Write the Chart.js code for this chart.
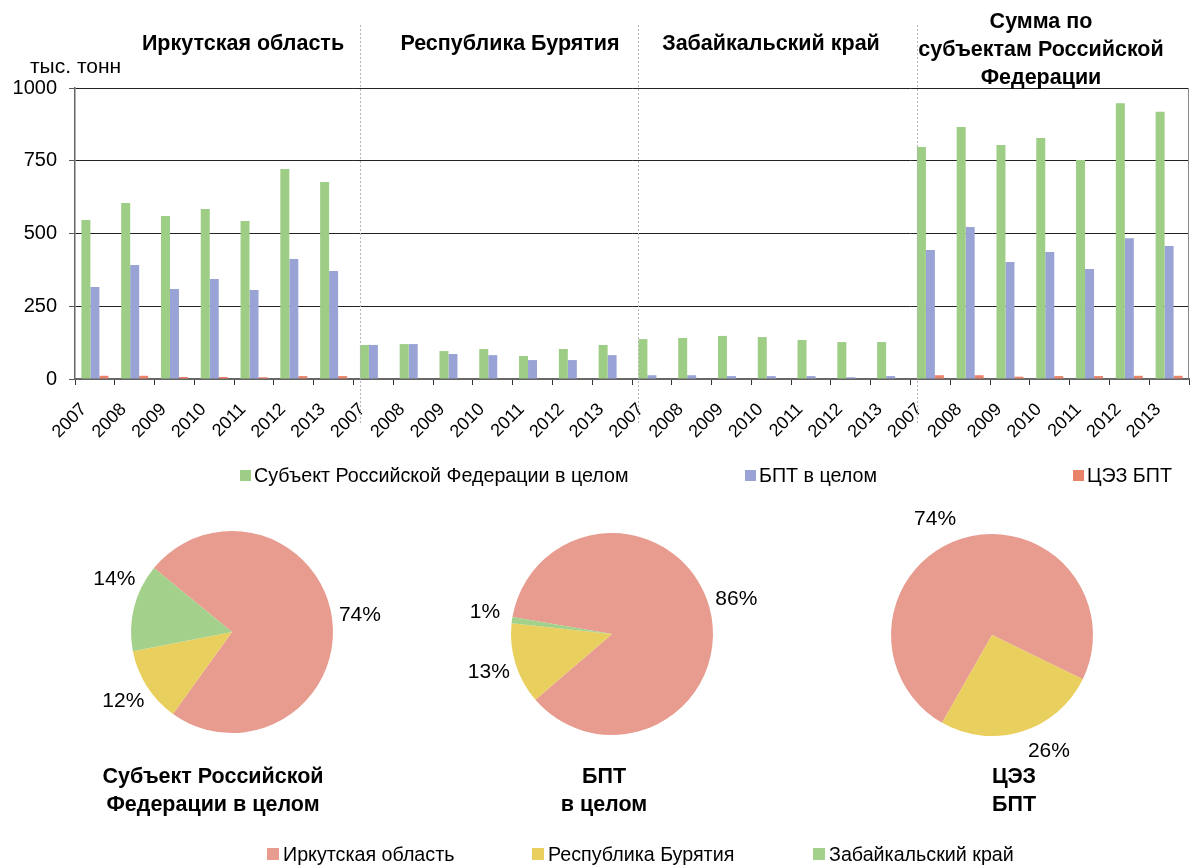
<!DOCTYPE html>
<html><head><meta charset="utf-8">
<script src="https://cdn.jsdelivr.net/npm/chart.js@4.4.1/dist/chart.umd.min.js"></script>
<style>
html,body{margin:0;padding:0;background:#fff;}
#wrap{position:relative;width:1190px;height:866px;overflow:hidden;font-family:"Liberation Sans",Arial,sans-serif;color:#000;}
canvas{position:absolute;}
.t{position:absolute;font-weight:bold;font-size:21.5px;text-align:center;line-height:28px;white-space:nowrap;transform:translateX(-50%);}
.lt{position:absolute;font-size:19.7px;line-height:20px;white-space:nowrap;}
.sq{position:absolute;}
</style></head>
<body><div id="wrap">
<canvas id="bar" width="1190" height="450" style="left:0;top:0"></canvas>
<canvas id="pie1" width="320" height="320" style="left:72px;top:472px"></canvas>
<canvas id="pie2" width="320" height="320" style="left:452px;top:474px"></canvas>
<canvas id="pie3" width="320" height="320" style="left:832px;top:475px"></canvas>

<div class="lt" style="left:30px;top:56px;font-size:21px">тыс. тонн</div>
<div class="t" style="left:243px;top:29px">Иркутская область</div>
<div class="t" style="left:510px;top:29px">Республика Бурятия</div>
<div class="t" style="left:771px;top:29px">Забайкальский край</div>
<div class="t" style="left:1041px;top:7px">Сумма по<br>субъектам Российской<br>Федерации</div>

<div class="t" style="left:213px;top:762px">Субъект Российской<br>Федерации в целом</div>
<div class="t" style="left:604px;top:762px">БПТ<br>в целом</div>
<div class="t" style="left:1014px;top:762px">ЦЭЗ<br>БПТ</div>

<div id="legend1"></div>
<div id="legend2"></div>
</div>
<script>
// ---- data ----
const years = ['2007','2008','2009','2010','2011','2012','2013'];
const groups = ['Иркутская область','Республика Бурятия','Забайкальский край','Сумма по субъектам Российской Федерации'];
const categories = [...years, ...years, ...years, ...years];
const seriesNames = ['Субъект Российской Федерации в целом','БПТ в целом','ЦЭЗ БПТ'];
const subjectRF = [546,605,560,584,543,722,677, 117,120,96,103,79,103,117, 137,141,148,144,134,127,127, 797,866,804,828,753,948,918];
const bptTotal  = [316,392,309,344,306,412,371, 117,120,86,82,65,65,82, 13,13,10,10,10,6,10, 443,522,402,436,378,484,457];
const cezBpt    = [11,11,7,7,6,10,10, 2,2,2,2,2,2,2, 0,0,0,0,0,0,0, 13,13,8,10,10,11,11];
const yTicks = [0,250,500,750,1000];
const regionNames = ['Иркутская область','Республика Бурятия','Забайкальский край'];
const pieSubjectRF = [74,12,14];
const pieBpt = [86,13,1];
const pieCez = [74,26,0];

// ---- styles ----
const barColors = ['#9ECD86','#99A3D6','#E9836A'];
const pieColors = ['#E89B8F','#E9D05E','#A3D18B'];
Chart.defaults.font.family = '"Liberation Sans", Arial, sans-serif';
Chart.defaults.color = '#000';

function legend(id, items, colors, sqX, txX, cy, sq) {
  const el = document.getElementById(id);
  items.forEach((name,i)=>{
    const s = document.createElement('div');
    s.className='sq';
    s.style.cssText = `left:${sqX[i]}px;top:${cy-sq/2}px;width:${sq}px;height:${sq}px;background:${colors[i]}`;
    el.appendChild(s);
    const t = document.createElement('div');
    t.className='lt';
    t.style.cssText = `left:${txX[i]}px;top:${cy-10}px`;
    t.textContent = name;
    el.appendChild(t);
  });
}
legend('legend1', seriesNames, barColors, [240,745,1073], [254,759,1087], 475, 11);
legend('legend2', regionNames, pieColors, [267,532,813], [283,548,829], 854, 12);

const sepPlugin = {
  id:'sep',
  afterDraw(chart){
    const ctx = chart.ctx, ca = chart.chartArea;
    const meta = chart.getDatasetMeta(0);
    ctx.save();
    ctx.strokeStyle = '#888'; ctx.lineWidth = 1;
    ctx.beginPath(); ctx.moveTo(ca.right-0.5, ca.top); ctx.lineTo(ca.right-0.5, ca.bottom); ctx.stroke();
    ctx.strokeStyle = '#b5b5b5'; ctx.setLineDash([2,2]);
    for (let g=1; g<groups.length; g++){
      const el = meta.data[g*years.length];
      const x = Math.round(el.x - el.width/2) + 0.5;
      ctx.beginPath(); ctx.moveTo(x, 25); ctx.lineTo(x, 425); ctx.stroke();
    }
    ctx.restore();
  }
};

new Chart(document.getElementById('bar'), {
  type:'bar',
  data:{
    labels: categories,
    datasets:[
      {label:seriesNames[0], data:subjectRF, backgroundColor:barColors[0]},
      {label:seriesNames[1], data:bptTotal, backgroundColor:barColors[1]},
      {label:seriesNames[2], data:cezBpt, backgroundColor:barColors[2]}
    ]
  },
  options:{
    responsive:false, animation:false, devicePixelRatio:1,
    categoryPercentage:0.678, barPercentage:1,
    layout:{padding:{top:88,right:1,left:0,bottom:0}},
    plugins:{legend:{display:false}, tooltip:{enabled:false}},
    scales:{
      x:{
        grid:{display:true, drawOnChartArea:false, drawTicks:true, tickLength:6, offset:true, color:'#333'},
        border:{display:true, color:'#666', width:2},
        ticks:{autoSkip:false, minRotation:45, maxRotation:45, font:{size:18}, color:'#000', padding:14, labelOffset:-11},
        afterFit(s){ s.height = 71; s.paddingLeft = 0; s.paddingRight = 0; }
      },
      y:{
        min:0, max:1000,
        afterBuildTicks(s){ s.ticks = yTicks.map(v=>({value:v})); },
        ticks:{font:{size:20}, color:'#000', padding:12, callback:(v)=>String(v)},
        grid:{color:'#222', lineWidth:1, tickLength:6, tickColor:'#555', drawTicks:true},
        border:{display:true, color:'#666', width:1.5},
        afterFit(s){ s.width = 75; s.paddingTop = 0; s.paddingBottom = 0; }
      }
    }
  },
  plugins:[sepPlugin]
});

const pieLabelPlugin = {
  id:'pieLabels',
  afterDraw(chart){
    const ctx = chart.ctx;
    const meta = chart.getDatasetMeta(0);
    const ds = chart.data.datasets[0];
    ctx.save();
    ctx.font = '21px "Liberation Sans", Arial, sans-serif';
    ctx.fillStyle = '#000'; ctx.textAlign='center'; ctx.textBaseline='middle';
    meta.data.forEach((arc,i)=>{
      if (!ds.data[i]) return;
      const mid = (arc.startAngle + arc.endAngle)/2 + (ds.labelShift[i]||0)*Math.PI/180;
      const r = arc.outerRadius + 28;
      ctx.fillText(ds.data[i] + '%', arc.x + Math.cos(mid)*r, arc.y + Math.sin(mid)*r);
    });
    ctx.restore();
  }
};
function pie(id, values, rotation, labelShift){
  new Chart(document.getElementById(id), {
    type:'pie',
    data:{labels:regionNames, datasets:[{data:values, backgroundColor:pieColors, borderWidth:0, labelShift:labelShift}]},
    options:{
      responsive:false, animation:false, devicePixelRatio:1, rotation:rotation,
      layout:{padding:59},
      plugins:{legend:{display:false}, tooltip:{enabled:false}}
    },
    plugins:[pieLabelPlugin]
  });
}
pie('pie1', pieSubjectRF, 309.4, [0,0,10]);
pie('pie2', pieBpt, 279.7, [0,0,2]);
pie('pie3', pieCez, 209.6, [-9,-9,0]);
</script>
</body></html>
